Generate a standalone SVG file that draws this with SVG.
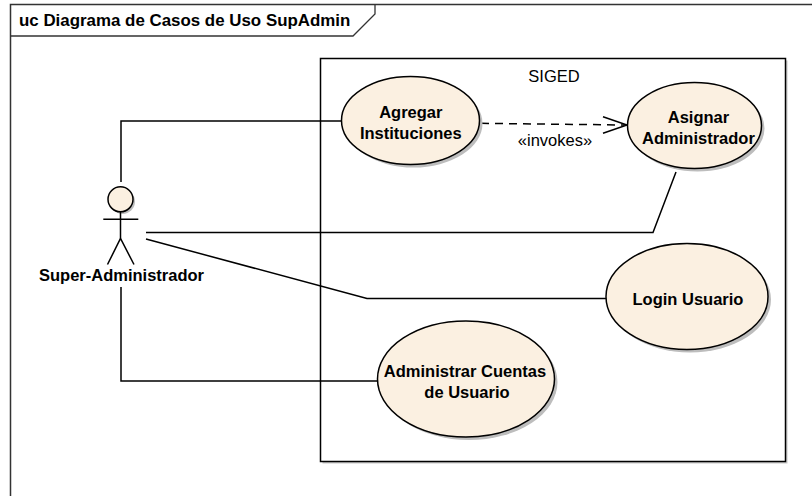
<svg xmlns="http://www.w3.org/2000/svg" width="812" height="496" viewBox="0 0 812 496">
<style>
.t{font-family:"Liberation Sans",Arial,sans-serif;font-size:16.5px;fill:#000}
.b{font-weight:bold}
.uc{fill:#FBF0E1;stroke:#000;stroke-width:1.5}
.sh{fill:#bdbdbd}
.ln{fill:none;stroke:#000;stroke-width:1.5}
</style>
<rect width="812" height="496" fill="#fff"/>
<g id="frame">
<path d="M10.5,496 V4.5 H812" fill="none" stroke="#333" stroke-width="1.5"/>
<path d="M10.5,36 H353 L375,14 V4.5" fill="none" stroke="#333" stroke-width="1.3"/>
<text class="t b" x="19" y="25.5" style="font-size:16.9px">uc Diagrama de Casos de Uso SupAdmin</text>
</g>
<g id="SIGED">
<rect x="322.5" y="60.5" width="465" height="403" fill="#c8c8c8"/>
<rect x="320.5" y="58.5" width="465" height="403" fill="#fff" stroke="#000" stroke-width="1.5"/>
<text class="t" x="554" y="81.5" text-anchor="middle">SIGED</text>
</g>
<g id="connectors">
<polyline class="ln" points="121,182 121,121 342,121"/>
<polyline class="ln" points="146,232.5 653,232.5 676,172"/>
<polyline class="ln" points="146,239 367,298.5 606,298.5"/>
<polyline class="ln" points="121,287 121,381 378,381"/>
<line x1="481" y1="123.3" x2="625" y2="125" stroke="#000" stroke-width="1.5" stroke-dasharray="8,6"/>
<polyline class="ln" points="603,116.7 627,125 603,133.3"/>
<text class="t" x="555" y="145.5" text-anchor="middle">«invokes»</text>
</g>
<g id="actor">
<circle cx="122.5" cy="201.5" r="12.5" class="sh"/>
<circle cx="120.5" cy="199.3" r="12.5" class="uc"/>
<line class="ln" x1="120.5" y1="212" x2="120.5" y2="238.5"/>
<line class="ln" x1="103.3" y1="219.3" x2="138.3" y2="219.3"/>
<polyline class="ln" points="107.5,264.5 120.5,238.5 134,264.5"/>
<text class="t b" x="121.5" y="280.5" text-anchor="middle">Super-Administrador</text>
</g>
<g id="agregar">
<ellipse class="sh" cx="413.5" cy="123.5" rx="69" ry="44"/>
<ellipse class="uc" cx="410.5" cy="120.5" rx="69" ry="44"/>
<text class="t b" x="410.8" y="117.7" text-anchor="middle">Agregar</text>
<text class="t b" x="410.8" y="139.3" text-anchor="middle">Instituciones</text>
</g>
<g id="asignar">
<ellipse class="sh" cx="697.5" cy="128.5" rx="67" ry="43"/>
<ellipse class="uc" cx="694.5" cy="125.5" rx="67" ry="43"/>
<text class="t b" x="698.5" y="123.3" text-anchor="middle">Asignar</text>
<text class="t b" x="698.5" y="144" text-anchor="middle">Administrador</text>
</g>
<g id="login">
<ellipse class="sh" cx="690" cy="299.5" rx="81" ry="53"/>
<ellipse class="uc" cx="687" cy="296.5" rx="81" ry="53"/>
<text class="t b" x="688" y="305" text-anchor="middle">Login Usuario</text>
</g>
<g id="administrar">
<ellipse class="sh" cx="469" cy="382" rx="88.5" ry="58"/>
<ellipse class="uc" cx="466" cy="379" rx="88.5" ry="58"/>
<text class="t b" x="465" y="376.7" text-anchor="middle">Administrar Cuentas</text>
<text class="t b" x="467" y="398.3" text-anchor="middle">de Usuario</text>
</g>
</svg>
